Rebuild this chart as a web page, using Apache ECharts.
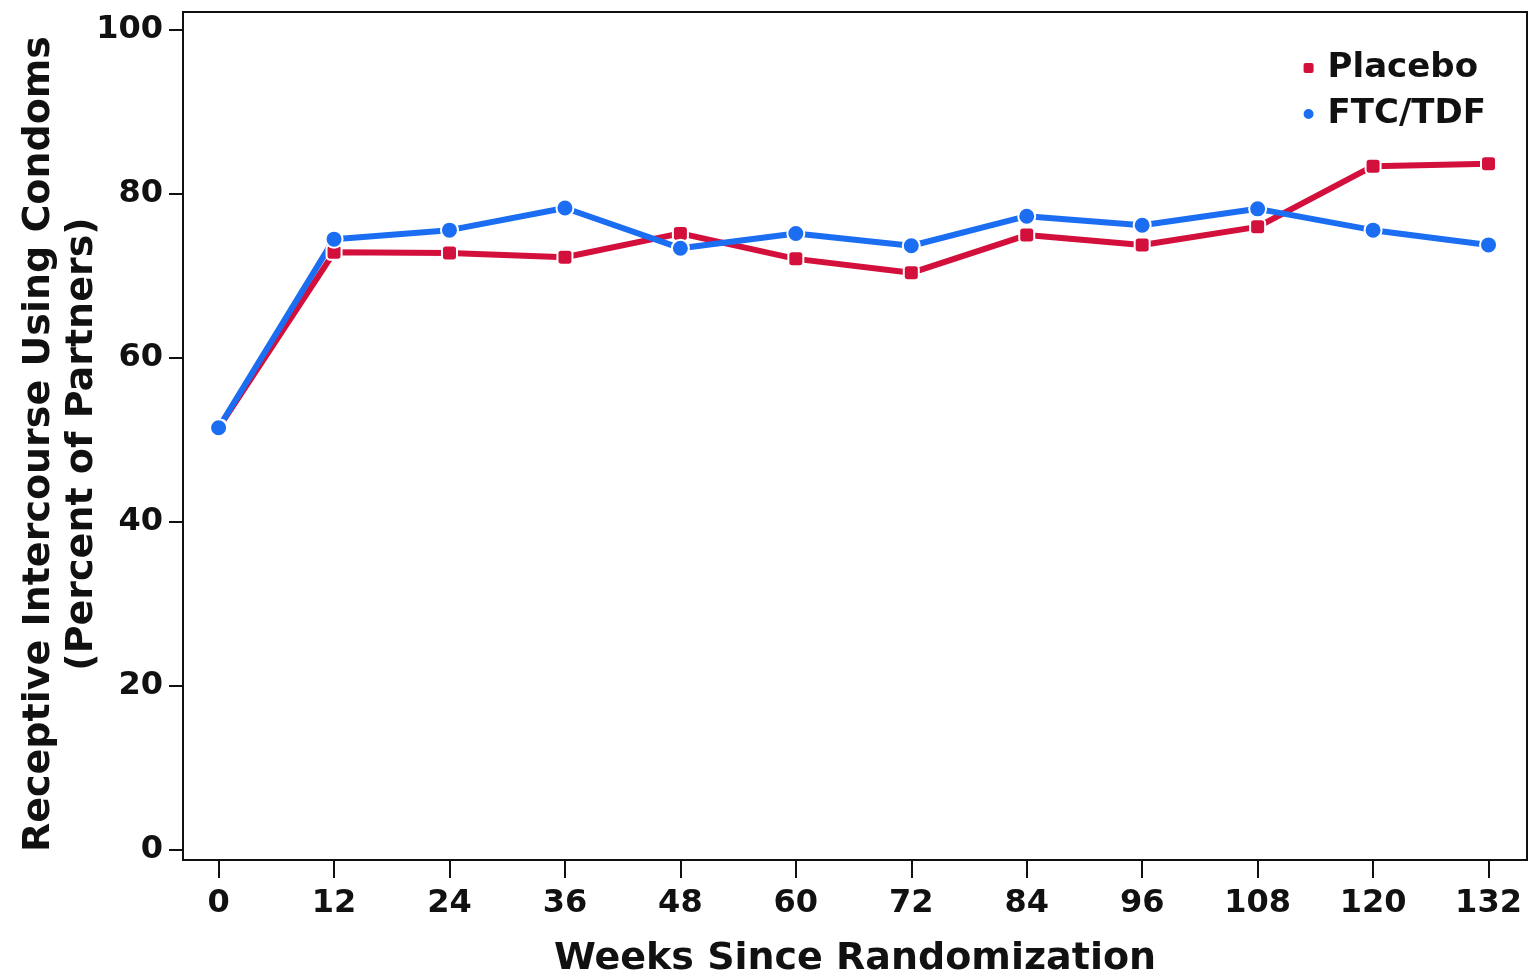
<!DOCTYPE html>
<html>
<head>
<meta charset="utf-8">
<script src="https://cdn.jsdelivr.net/npm/echarts@6/dist/echarts.min.js"></script>
<style>
  html, body { margin: 0; padding: 0; background: #fff; }
  #chart { width: 1531px; height: 979px; }
</style>
</head>
<body>
<div id="chart"></div>
<script>
// weeks since randomization
const weeks = [0, 12, 24, 36, 48, 60, 72, 84, 96, 108, 120, 132]
const placebo = [51.5, 72.9, 72.8, 72.3, 75.2, 72.1, 70.4, 75.0, 73.8, 76.0, 83.4, 83.7]
const ftcTdf = [51.5, 74.5, 75.6, 78.3, 73.4, 75.2, 73.7, 77.3, 76.2, 78.2, 75.6, 73.8]
const yTicks = [0, 20, 40, 60, 80, 100]

const FONT = 'DejaVu Sans'
const RED = '#d30f3c'
const BLUE = '#1b6ef2'

const toPairs = vals => weeks.map((w, i) => [w, vals[i]])

const chart = echarts.init(document.getElementById('chart'))

const option = {
    backgroundColor: '#fff',
    animation: false,
    grid: {
        left: 183,
        top: 12,
        right: 4,
        bottom: 119,
        outerBoundsMode: 'none',
        containLabel: false,
        show: true,
        borderColor: '#111',
        borderWidth: 2
    },
    legend: {
        orient: 'vertical',
        right: 40,
        top: 46,
        itemWidth: 12,
        itemHeight: 12,
        itemGap: 12,
        textStyle: { fontFamily: FONT, fontWeight: 'bold', fontSize: 34, color: '#111', padding: [0, 0, 0, 8] },
        data: [
            { name: 'Placebo', icon: 'roundRect' },
            { name: 'FTC/TDF', icon: 'circle' }
        ]
    },
    xAxis: {
        type: 'value',
        min: -3.7,
        max: 136,
        name: 'Weeks Since Randomization',
        nameLocation: 'middle',
        nameGap: 80,
        nameTextStyle: { fontFamily: FONT, fontWeight: 'bold', fontSize: 38, color: '#111' },
        axisLine: { show: true, onZero: false, lineStyle: { color: '#111', width: 2 } },
        axisTick: { show: true, length: 18, customValues: weeks, lineStyle: { color: '#111', width: 2 } },
        axisLabel: { customValues: weeks, margin: 28, fontFamily: FONT, fontWeight: 'bold', fontSize: 32, color: '#111' },
        splitLine: { show: false }
    },
    yAxis: {
        type: 'value',
        min: -1.2,
        max: 102.2,
        name: 'Receptive Intercourse Using Condoms\n(Percent of Partners)',
        nameLocation: 'middle',
        nameGap: 79,
        nameMoveOverlap: false,
        nameRotate: 90,
        nameTextStyle: { fontFamily: FONT, fontWeight: 'bold', fontSize: 38, color: '#111', lineHeight: 43, padding: [0, 16, 0, 0] },
        axisLine: { show: true, onZero: false, lineStyle: { color: '#111', width: 2 } },
        axisTick: { show: true, length: 14, customValues: yTicks, lineStyle: { color: '#111', width: 2 } },
        axisLabel: { customValues: yTicks, margin: 20, fontFamily: FONT, fontWeight: 'bold', fontSize: 32, color: '#111' },
        splitLine: { show: false }
    },
    series: [
        {
            name: 'Placebo',
            type: 'line',
            data: toPairs(placebo),
            symbol: 'roundRect',
            symbolSize: 15,
            color: RED,
            lineStyle: { width: 6, color: RED },
            itemStyle: { color: RED, borderColor: '#fff', borderWidth: 2 }
        },
        {
            name: 'FTC/TDF',
            type: 'line',
            data: toPairs(ftcTdf),
            symbol: 'circle',
            symbolSize: 17,
            color: BLUE,
            lineStyle: { width: 6, color: BLUE },
            itemStyle: { color: BLUE, borderColor: '#fff', borderWidth: 2 }
        }
    ]
}

chart.setOption(option)
</script>
</body>
</html>
